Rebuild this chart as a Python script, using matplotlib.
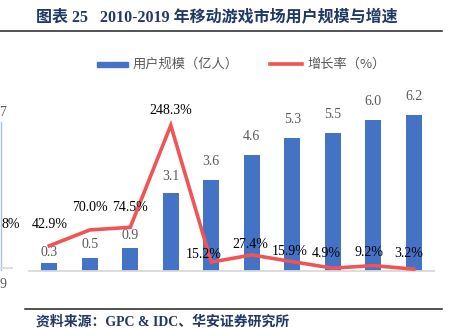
import matplotlib
matplotlib.use("Agg")
import matplotlib.pyplot as plt
from matplotlib.lines import Line2D
from matplotlib.patches import Rectangle

years = ["2010", "2011", "2012", "2013", "2014", "2015", "2016", "2017", "2018", "2019"]
users = [0.3, 0.5, 0.9, 3.1, 3.6, 4.6, 5.3, 5.5, 6.0, 6.2]
growth = [42.9, 70.0, 74.5, 248.3, 15.2, 27.4, 15.9, 4.9, 9.2, 3.2]
bar_label_text = ["0.3", "0.5", "0.9", "3.1", "3.6", "4.6", "5.3", "5.5", "6.0", "6.2"]
growth_label_text = ["42.9%", "70.0%", "74.5%", "248.3%", "15.2%", "27.4%", "15.9%", "4.9%", "9.2%", "3.2%"]

title = "图表 25   2010-2019 年移动游戏市场用户规模与增速"
source = "资料来源：GPC & IDC、华安证券研究所"
legend_bar = "用户规模（亿人）"
legend_line = "增长率（%）"

W, H = 453, 328
fig = plt.figure(figsize=(W / 100, H / 100), dpi=100)

BLUE = "#4472C4"
RED = "#F05454"
NAVY = "#1F3864"
GRAY = "#595959"
serif_cjk = ["Liberation Serif", "Noto Sans CJK SC"]

def px(x, y):
    return x / W, 1 - y / H

# axes
ax_l, ax_r, ax_t, ax_b = 29, 434, 95, 271
ax = fig.add_axes([ax_l / W, 1 - ax_b / H, (ax_r - ax_l) / W, (ax_b - ax_t) / H])
ax2 = ax.twinx()
x = list(range(len(years)))
ax.bar(x, users, width=0.4, color=BLUE, zorder=2)
ax.set_xlim(-0.5, len(years) - 0.5)
ax.set_ylim(0, 7)
ax2.set_ylim(0, 300)
ax2.plot(x, growth, color=RED, lw=2.6, solid_joinstyle="miter", zorder=3)

for a in (ax, ax2):
    for s in a.spines.values():
        s.set_visible(False)
    a.set_yticks([])
ax.spines["bottom"].set_visible(True)
ax.spines["bottom"].set_color("#D9D9D9")
ax.spines["bottom"].set_linewidth(1.3)
ax.set_xticks(x)
ax.set_xticklabels(years, family="Liberation Serif", fontsize=10, color=GRAY)
ax.tick_params(axis="x", length=0, pad=9)
ax2.set_xticks([])
ax.set_zorder(1)
ax2.set_zorder(2)
ax.patch.set_visible(False)
ax2.patch.set_visible(False)

# bar labels
bar_gap = [4, 7, 6, 10, 12, 12, 12, 12, 12, 12]
for i, (v, t) in enumerate(zip(users, bar_label_text)):
    ax.annotate(t, (i, v), xytext=(0, bar_gap[i] * 0.72), textcoords="offset points",
                ha="center", va="bottom", family="Liberation Serif", fontsize=10, color=GRAY)

# growth labels (pixel offsets from point: dx, dy of label center)
g_off = [(0, -21), (0, -22), (0, -20), (0, -15), (-8, -8), (-1, -10), (-3, -10), (-6, -15), (-4, -13), (-5, -16)]
for i, (v, t) in enumerate(zip(growth, growth_label_text)):
    dx, dy = g_off[i]
    ax2.annotate(t, (i, v), xytext=(dx * 0.72, -dy * 0.72), textcoords="offset points",
                 ha="center", va="center", family="Liberation Serif", fontsize=10, color="black")

# title and lines
fig.text(*px(36, 18), title, family=serif_cjk, fontsize=11.5, fontweight="bold",
         color=NAVY, ha="left", va="center")
fig.add_artist(Line2D([0, 442 / W], [1 - 31 / H] * 2, color="#222222", lw=1.1))
fig.add_artist(Line2D([25 / W, 442 / W], [1 - 309 / H] * 2, color="#222222", lw=1.1))
fig.text(*px(36, 322), source, family=serif_cjk, fontsize=10, fontweight="bold",
         color=NAVY, ha="left", va="center")

# legend
fig.add_artist(Rectangle(px(97, 67), 31 / W, 5 / H, color=BLUE, transform=fig.transFigure))
fig.text(*px(133, 64), legend_bar, family="Noto Sans CJK SC", fontsize=9.5,
         color=GRAY, ha="left", va="center")
fig.add_artist(Line2D([270 / W, 302 / W], [1 - 64 / H] * 2, color=RED, lw=2.6))
fig.text(*px(307, 64), legend_line, family="Noto Sans CJK SC", fontsize=9.5,
         color=GRAY, ha="left", va="center")

# cropped remnants from adjacent chart at left edge
fig.add_artist(Line2D([1 / W, 1 / W], [1 - 122 / H, 1 - 270 / H], color="#A9C0E8", lw=1.0))
fig.add_artist(Line2D([0, 12 / W], [1 - 268 / H] * 2, color="#D9D9D9", lw=1.2))
fig.text(*px(6, 113), "7", family="Liberation Serif", fontsize=10, color=GRAY, ha="right", va="center")
fig.text(*px(20, 224), "8%", family="Liberation Serif", fontsize=10, color="black", ha="right", va="center")
fig.text(*px(6, 284), "9", family="Liberation Serif", fontsize=10, color=GRAY, ha="right", va="center")

fig.savefig("out.png", dpi=100)
